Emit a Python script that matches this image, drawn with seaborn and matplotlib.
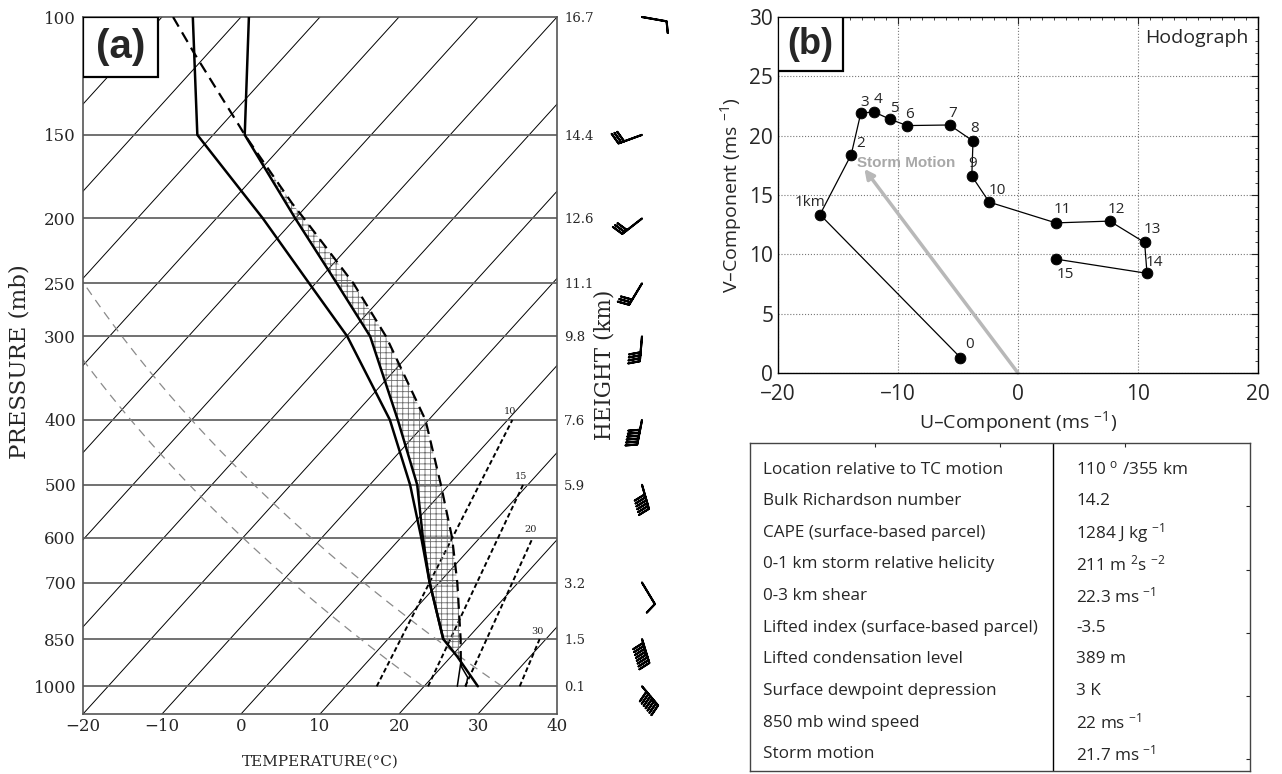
import numpy as np
import matplotlib
matplotlib.use("Agg")
import matplotlib.pyplot as plt
import seaborn as sns
from matplotlib.patches import Rectangle
from matplotlib.ticker import MultipleLocator, NullLocator

# ---------------- panel (a): skew-T sounding ----------------
p_levels = [100, 150, 200, 250, 300, 400, 500, 600, 700, 850, 1000]
height_labels = ["16.7", "14.4", "12.6", "11.1", "9.8", "7.6", "5.9", "", "3.2", "1.5", "0.1"]
temp_ticks = [-20, -10, 0, 10, 20, 30, 40]

temp_p = [100, 150, 200, 250, 300, 400, 500, 600, 700, 850, 903, 1000]
temp_c = [-79.0, -66.0, -50.0, -37.3, -27.0, -13.9, -4.0, 2.8, 8.8, 17.0, 20.8, 26.8]

dewp_p = [100, 150, 200, 250, 300, 400, 500, 600, 700, 850]
dewp_c = [-86.1, -72.0, -54.1, -40.8, -29.9, -14.9, -4.9, 2.6, 8.8, 17.0]

parcel_p = [100, 113, 146, 150, 190, 200, 250, 300, 400, 500, 600, 700, 850, 921]
parcel_c = [-88.6, -81.9, -67.5, -66.0, -52.1, -48.9, -35.2, -25.0, -10.4, -1.0, 6.5, 12.3, 19.2, 21.9]

# surface parcel lifted to the LCL
lcl_mix_p = [1000, 921]
lcl_mix_c = [24.2, 21.9]
lcl_dry_p = [1000, 970, 937, 921]
lcl_dry_c = [25.3, 24.5, 22.6, 21.9]

# mixing ratio lines (g/kg)
mr_labels = ["10", "15", "20", "30"]
mr_bottom_c = [14.0, 20.5, 25.2, 32.1]
mr_top_p = [400, 500, 600, 850]
mr_top_c = [0.6, 9.4, 16.7, 29.2]

adiabat_theta = [293, 303]

barb_p = [100, 150, 200, 250, 300, 400, 500, 700, 850, 1000]
barb_dir = [100, 250, 232, 211, 185, 191, 164, 149, 163, 140]
barb_spd = [2, 6, 6, 6, 8, 12, 12, 2, 16, 14]

# ---------------- panel (b): hodograph ----------------
hodo_labels = ["0", "1km", "2", "3", "4", "5", "6", "7", "8", "9", "10", "11", "12", "13", "14", "15"]
hodo_u = [-4.8, -16.5, -13.9, -13.1, -12.0, -10.7, -9.25, -5.7, -3.75, -3.85, -2.4, 3.15, 7.65, 10.55, 10.75, 3.15]
hodo_v = [1.3, 13.35, 18.4, 21.9, 22.0, 21.4, 20.85, 20.9, 19.55, 16.6, 14.4, 12.65, 12.8, 11.0, 8.4, 9.6]
storm_u, storm_v = -12.8, 17.2

table_names = [
    "Location relative to TC motion",
    "Bulk Richardson number",
    "CAPE (surface-based parcel)",
    "0-1 km storm relative helicity",
    "0-3 km shear",
    "Lifted index (surface-based parcel)",
    "Lifted condensation level",
    "Surface dewpoint depression",
    "850 mb wind speed",
    "Storm motion",
]
table_values = [
    "110 $^{o}$ /355 km",
    "14.2",
    "1284 J kg $^{-1}$",
    "211 m $^{2}$s $^{-2}$",
    "22.3 ms $^{-1}$",
    "-3.5",
    "389 m",
    "3 K",
    "22 ms $^{-1}$",
    "21.7 ms $^{-1}$",
]

P_BOT, P_TOP = 1100, 100
SKEW = 80 / np.log(11)


def skew_x(t, p):
    return np.asarray(t, float) + SKEW * np.log(P_BOT / np.asarray(p, float))


sns.set_style("white")
plt.rcParams["font.family"] = "Open Sans"
plt.rcParams["mathtext.default"] = "regular"
plt.rcParams["hatch.linewidth"] = 0.6
SERIF = "DejaVu Serif"
W, H = 1282, 774

fig = plt.figure(figsize=(12.82, 7.74), dpi=100)

# ---------------- skew-T ----------------
ax = fig.add_axes([83 / W, 1 - 714 / H, 474 / W, 697 / H])
ax.set_yscale("log")
ax.set_ylim(P_BOT, P_TOP)
ax.set_xlim(-20, 40)

for t in range(-130, 50, 10):
    ax.plot(skew_x([t, t], [P_BOT, P_TOP]), [P_BOT, P_TOP], color="black", lw=0.7, zorder=1)
for p in p_levels[1:]:
    ax.axhline(p, color="#666666", lw=1.3, zorder=1)

pp = np.geomspace(1000, 150, 200)
for th in adiabat_theta:
    tt = th * (pp / 1000) ** 0.286 - 273.15
    ax.plot(skew_x(tt, pp), pp, color="#8a8a8a", lw=0.9, ls=(0, (7, 5)), zorder=1)

for lab, tb, pt, tp in zip(mr_labels, mr_bottom_c, mr_top_p, mr_top_c):
    xs = skew_x([tb, tp], [1000, pt])
    ax.plot(xs, [1000, pt], color="black", lw=1.4, ls=(0, (2.5, 1.5)), zorder=2)
    ax.annotate(lab, (xs[1], pt), xytext=(-2, 8), textcoords="offset pixels",
                ha="center", va="center", fontsize=7, family=SERIF)

# CAPE hatching between environment and parcel
pg = np.geomspace(parcel_p[-1], 150, 300)
tx = np.interp(np.log(pg), np.log(temp_p), skew_x(temp_c, temp_p))
px = np.interp(np.log(pg), np.log(parcel_p), skew_x(parcel_c, parcel_p))
ax.fill_betweenx(pg, tx, px, where=px >= tx, facecolor="none", edgecolor="#6e6e6e",
                 hatch="+++", lw=0, zorder=2)

sns.lineplot(x=skew_x(temp_c, temp_p), y=temp_p, sort=False, estimator=None,
             color="black", lw=1.8, ax=ax, zorder=4)
sns.lineplot(x=skew_x(dewp_c, dewp_p), y=dewp_p, sort=False, estimator=None,
             color="black", lw=1.8, ax=ax, zorder=4)
ax.plot(skew_x(parcel_c, parcel_p), parcel_p, color="black", lw=1.6, ls=(0, (5, 3)), zorder=4)
ax.plot(skew_x(lcl_mix_c, lcl_mix_p), lcl_mix_p, color="black", lw=1.1, zorder=4)
ax.plot(skew_x(lcl_dry_c, lcl_dry_p), lcl_dry_p, color="black", lw=1.1, zorder=4)

ax.yaxis.set_minor_locator(NullLocator())
ax.set_yticks(p_levels, labels=[str(p) for p in p_levels], fontsize=12, family=SERIF)
ax.set_xticks(temp_ticks, labels=[str(t).replace("-", "\u2212") for t in temp_ticks],
              fontsize=12, family=SERIF)
ax.tick_params(length=0, pad=5)
ax.tick_params(axis="x", pad=3)
ax.set_xlabel("")
ax.set_ylabel("")
for s in ax.spines.values():
    s.set_color("#555555")
    s.set_linewidth(1.2)

ax2 = ax.twinx()
ax2.set_yscale("log")
ax2.set_ylim(P_BOT, P_TOP)
ax2.yaxis.set_minor_locator(NullLocator())
keep = [i for i, h in enumerate(height_labels) if h]
ax2.set_yticks([p_levels[i] for i in keep], labels=[height_labels[i] for i in keep],
               fontsize=9.5, family=SERIF)
ax2.tick_params(length=0, pad=5)
for s in ax2.spines.values():
    s.set_visible(False)

ax.add_patch(Rectangle((0, 1 - 0.086), 0.158, 0.086, transform=ax.transAxes,
                       facecolor="white", edgecolor="black", lw=1.6, zorder=6))
ax.text(0.079, 1 - 0.043, "(a)", transform=ax.transAxes, ha="center", va="center",
        fontsize=29, fontweight="bold", family="Liberation Sans", zorder=7)

fig.text(20 / W, 1 - 362 / H, "PRESSURE (mb)", rotation=90, ha="center", va="center",
         fontsize=16.5, family=SERIF)
fig.text(604 / W, 1 - 365 / H, "HEIGHT (km)", rotation=90, ha="center", va="center",
         fontsize=15.5, family=SERIF)
fig.text(320 / W, 1 - 762 / H, "TEMPERATURE(\u00b0C)", ha="center", va="center",
         fontsize=11, family=SERIF)

# wind barbs
axb = fig.add_axes([602 / W, 1 - 714 / H, 80 / W, 697 / H])
axb.set_yscale("log")
axb.set_ylim(P_BOT, P_TOP)
axb.set_xlim(0, 1)
axb.axis("off")
rad = np.deg2rad(barb_dir)
bu = -np.asarray(barb_spd) * np.sin(rad)
bv = -np.asarray(barb_spd) * np.cos(rad)
axb.barbs(np.full(len(barb_p), 0.5), barb_p, bu, bv, length=6.0, lw=1.5, color="black",
          barb_increments=dict(half=1, full=2, flag=50),
          sizes=dict(spacing=0.12, height=0.45, width=0.25), clip_on=False)

# ---------------- hodograph ----------------
axh = fig.add_axes([778 / W, 1 - 373 / H, 480 / W, 356 / H])
axh.annotate("", xy=(storm_u, storm_v), xytext=(0, 0),
             arrowprops=dict(arrowstyle="-|>", color="#b8b8b8", lw=2.5, mutation_scale=14,
                             shrinkA=0, shrinkB=0), zorder=2)
axh.text(storm_u - 0.6, storm_v + 0.5, "Storm Motion", color="#a8a8a8", fontweight="bold",
         fontsize=11, ha="left", va="center", family="Liberation Sans", zorder=2)
sns.lineplot(x=hodo_u, y=hodo_v, sort=False, estimator=None, color="black", lw=0.9,
             ax=axh, zorder=3)
sns.scatterplot(x=hodo_u, y=hodo_v, color="black", s=60, edgecolor="black", ax=axh, zorder=4)
label_offsets = [(9, 13), (-10, 12), (9, 11), (4, 11), (4, 12), (5, 11), (2, 11), (3, 11),
                 (2, 13), (1, 13), (8, 12), (7, 13), (7, 12), (8, 13), (7, 11), (10, -15)]
for lab, u, v, off in zip(hodo_labels, hodo_u, hodo_v, label_offsets):
    axh.annotate(lab, (u, v), xytext=off, textcoords="offset pixels", ha="center",
                 va="center", fontsize=11, zorder=5)

axh.set_xlim(-20, 20)
axh.set_ylim(0, 30)
axh.xaxis.set_major_locator(MultipleLocator(10))
axh.xaxis.set_minor_locator(MultipleLocator(1))
axh.yaxis.set_major_locator(MultipleLocator(5))
axh.yaxis.set_minor_locator(MultipleLocator(1))
axh.tick_params(which="both", direction="in", top=True, right=True, labelsize=15)
axh.tick_params(which="major", length=5, width=0.8)
axh.tick_params(which="minor", length=2.5, width=0.6)
axh.tick_params(axis="x", which="both", pad=8)
axh.grid(True, which="major", ls=":", color="#777777", lw=0.8)
axh.set_xlabel("U\u2013Component (ms $^{-1}$)", fontsize=14, labelpad=3)
axh.set_ylabel("V\u2013Component (ms $^{-1}$)", fontsize=14, labelpad=4)
for s in axh.spines.values():
    s.set_color("black")
    s.set_linewidth(1)

axh.add_patch(Rectangle((0, 1 - 0.152), 0.135, 0.152, transform=axh.transAxes,
                        facecolor="white", edgecolor="black", lw=1.6, zorder=6))
axh.text(0.0675, 1 - 0.076, "(b)", transform=axh.transAxes, ha="center", va="center",
         fontsize=26, fontweight="bold", family="Liberation Sans", zorder=7)
axh.text(0.98, 0.94, "Hodograph", transform=axh.transAxes, ha="right", va="center",
         fontsize=14)

# ---------------- table ----------------
axt = fig.add_axes([750 / W, 3 / H, 500 / W, 328 / H])
axt.set_xlim(0, 1)
axt.set_ylim(0, 1)
axt.axvline(0.605, color="black", lw=1)
axt.set_xticks([0.25, 0.5, 0.75])
axt.set_yticks([0.036, 0.229, 0.422, 0.614, 0.807])
axt.tick_params(direction="in", length=3, width=0.8, top=True, right=True,
                labelbottom=False, labelleft=False)
for s in axt.spines.values():
    s.set_color("#444444")
    s.set_linewidth(1)
for i, (name, val) in enumerate(zip(table_names, table_values)):
    y = 1 - (0.081 + i * 0.0964)
    axt.text(0.026, y, name, ha="left", va="center", fontsize=12.3)
    axt.text(0.652, y, val, ha="left", va="center", fontsize=12.3)

fig.savefig("out.png", dpi=100)
